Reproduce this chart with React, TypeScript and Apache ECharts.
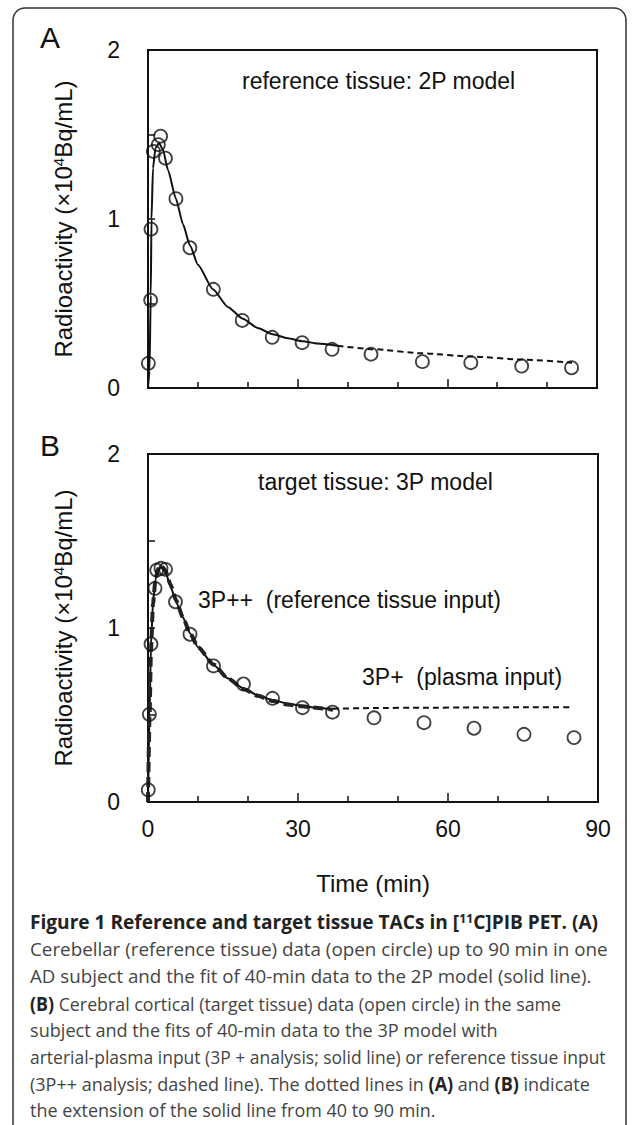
import React, { useEffect, useRef } from 'react';
import * as echarts from 'echarts';

// ---------- data ----------
// Panel A: cerebellar (reference tissue) TAC, open circles
const timeA = [0.07, 0.53, 0.6, 1.07, 2.07, 2.53, 3.5, 5.6, 8.4, 13.1, 18.9, 24.9, 30.9, 36.9, 44.7, 55, 64.7, 74.9, 84.9];
const valueA = [0.146, 0.52, 0.94, 1.4, 1.44, 1.49, 1.36, 1.12, 0.83, 0.584, 0.4, 0.3, 0.268, 0.229, 0.2, 0.156, 0.15, 0.13, 0.12];
// 2P model fit (solid) and its extension (dotted)
const fitTimeA = [0, 0.3, 0.55, 0.7, 1.0, 1.5, 2.2, 3, 4, 5.6, 7, 8.4, 10, 13, 16, 19, 22, 25, 28, 31, 34, 38];
const fitValueA = [0, 0.1, 0.55, 1.0, 1.3, 1.42, 1.45, 1.41, 1.29, 1.12, 0.97, 0.845, 0.73, 0.585, 0.48, 0.41, 0.355, 0.318, 0.295, 0.277, 0.263, 0.25];
const extTimeA = [38, 45, 55, 65, 75, 85];
const extValueA = [0.25, 0.23, 0.205, 0.186, 0.168, 0.15];

// Panel B: cerebral cortical (target tissue) TAC, open circles
const timeB = [0.05, 0.27, 0.6, 1.4, 1.74, 2.6, 3.5, 5.5, 8.4, 13.1, 19.1, 24.9, 30.9, 36.9, 45.2, 55.2, 65.2, 75.2, 85.2];
const valueB = [0.07, 0.504, 0.908, 1.228, 1.333, 1.343, 1.337, 1.151, 0.964, 0.782, 0.678, 0.596, 0.542, 0.516, 0.484, 0.456, 0.424, 0.389, 0.37];
// 3P+ fit (solid), 3P++ fit (dashed), extension of 3P+ (dotted)
const fitTimeB = [0, 0.3, 0.6, 1.0, 1.5, 2.0, 2.6, 3.5, 4.5, 5.6, 7, 8.4, 10, 13.1, 16, 19.1, 22, 24.9, 28, 30.9, 34, 37];
const fitPlusB = [0, 0.5, 0.9, 1.15, 1.28, 1.33, 1.35, 1.32, 1.24, 1.15, 1.06, 0.97, 0.89, 0.787, 0.71, 0.653, 0.612, 0.586, 0.565, 0.552, 0.54, 0.533];
const fitPlusPlusB = [0, 0.48, 0.88, 1.14, 1.28, 1.34, 1.36, 1.33, 1.25, 1.16, 1.06, 0.97, 0.89, 0.79, 0.71, 0.65, 0.61, 0.58, 0.56, 0.55, 0.54, 0.53];
const extTimeB = [37, 45, 55, 65, 75, 85];
const extValueB = [0.536, 0.54, 0.542, 0.543, 0.544, 0.544];

const xTickLabels = [0, 30, 60, 90];
const yTickLabels = [0, 1, 2];

const captionLines: Array<Array<[string, string]>> = [
  [['b', 'Figure 1 Reference and target tissue TACs in ['], ['bs', '11'], ['b', 'C]PIB PET. (A)']],
  [['r', 'Cerebellar (reference tissue) data (open circle) up to 90 min in one']],
  [['r', 'AD subject and the fit of 40-min data to the 2P model (solid line).']],
  [['b', '(B)'], ['r', ' Cerebral cortical (target tissue) data (open circle) in the same']],
  [['r', 'subject and the fits of 40-min data to the 3P model with']],
  [['r', 'arterial-plasma input (3P + analysis; solid line) or reference tissue input']],
  [['r', '(3P++ analysis; dashed line). The dotted lines in '], ['b', '(A)'], ['r', ' and '], ['b', '(B)'], ['r', ' indicate']],
  [['r', 'the extension of the solid line from 40 to 90 min.']],
];

const pairs = (xs: number[], ys: number[]) => xs.map((x, i) => [x, ys[i]]);

const INK = '#111';
const FONT = "'Liberation Sans', Arial, sans-serif";
const CAP_FONT = "'Open Sans', 'Noto Sans', sans-serif";
const CAP_SIZE = 19;
const SUP_SIZE = 12;

export default function App() {
  const ref = useRef<HTMLDivElement>(null);

  useEffect(() => {
    if (!ref.current) return;
    const chart = echarts.init(ref.current, null, { renderer: 'svg' });

    // caption layout of the reference: left edge and right edge of each line
    const capLeft = 30;
    const capRight = [598, 608, 592, 561, 498, 606, 590, 436];
    const capY = [922, 949, 976, 1003, 1029, 1056, 1083, 1109];

    let ctx: CanvasRenderingContext2D | null = null;
    try { ctx = document.createElement('canvas').getContext('2d'); } catch (e) { ctx = null; }
    const measure = (segs: Array<[string, string]>) => {
      if (!ctx) return 0;
      let w = 0;
      for (const [s, t] of segs) {
        const bold = s !== 'r';
        const size = s === 'bs' ? SUP_SIZE : CAP_SIZE;
        ctx.font = `${bold ? 'bold ' : ''}${size}px ${CAP_FONT}`;
        w += ctx.measureText(t).width;
      }
      return w;
    };

    const xAxis = (gridIndex: number, showLabels: boolean) => ({
      type: 'value', gridIndex, min: 0, max: 90, interval: 30,
      axisLine: { show: true, onZero: false, lineStyle: { color: INK, width: 2 } },
      axisTick: { show: true, inside: true, length: 9, lineStyle: { color: INK, width: 1.5 } },
      minorTick: { show: true, splitNumber: 3, length: 6, lineStyle: { color: INK, width: 1.5 } },
      splitLine: { show: false },
      minorSplitLine: { show: false },
      axisLabel: {
        show: showLabels, margin: 15, fontSize: 23, color: INK, fontFamily: FONT,
        formatter: (v: number) => (xTickLabels.includes(v) ? String(v) : ''),
      },
    });
    const yAxis = (gridIndex: number) => ({
      type: 'value', gridIndex, min: 0, max: 2, interval: 0.5,
      axisLine: { show: true, onZero: false, lineStyle: { color: INK, width: 2 } },
      axisTick: { show: true, inside: true, length: 7, lineStyle: { color: INK, width: 1.5 } },
      splitLine: { show: false },
      axisLabel: {
        margin: 28, fontSize: 23, color: INK, fontFamily: FONT,
        formatter: (v: number) => (yTickLabels.includes(v) ? String(v) : ''),
      },
    });

    const scatterStyle = {
      type: 'scatter', symbol: 'circle', symbolSize: 13, z: 5,
      itemStyle: { color: 'rgba(0,0,0,0)', borderColor: INK, borderWidth: 1.8 },
    };
    const lineBase = { type: 'line', showSymbol: false, symbol: 'none', smooth: 0.2, smoothMonotone: 'x' };

    const txt = (x: number, y: number, text: string, extra: any = {}) => ({
      type: 'text', x, y,
      style: { text, fontSize: 23, fontFamily: FONT, fill: INK, align: 'left', verticalAlign: 'middle', ...extra },
    });

    const yName = (cy: number) => ({
      type: 'text', x: 63, y: cy, rotation: Math.PI / 2,
      style: {
        text: '{n|Radioactivity (×10}{s|4}{n|Bq/mL)}',
        align: 'center', verticalAlign: 'middle', fill: INK,
        rich: {
          n: { fontSize: 24, fontFamily: FONT, fill: INK },
          s: { fontSize: 15, fontFamily: FONT, fill: INK, verticalAlign: 'top' },
        },
      },
    });

    const captionGraphics = captionLines.map((segs, i) => {
      const w = measure(segs);
      const scaleX = w > 0 ? (capRight[i] - capLeft) / w : 0.85;
      return {
        type: 'text', x: capLeft, y: capY[i], scaleX,
        style: {
          text: segs.map(([s, t]) => `{${s}|${t}}`).join(''),
          align: 'left', verticalAlign: 'middle',
          rich: {
            r: { fontSize: CAP_SIZE, fontFamily: CAP_FONT, fill: '#444' },
            b: { fontSize: CAP_SIZE, fontFamily: CAP_FONT, fontWeight: 'bold', fill: '#222' },
            bs: { fontSize: SUP_SIZE, fontFamily: CAP_FONT, fontWeight: 'bold', fill: '#222', verticalAlign: 'top' },
          },
        },
      };
    });

    const option: any = {
      animation: false,
      backgroundColor: '#fff',
      grid: [
        { left: 148, top: 50, width: 449, height: 338, show: true, borderColor: INK, borderWidth: 2 },
        { left: 148, top: 454, width: 450, height: 348, show: true, borderColor: INK, borderWidth: 2 },
      ],
      xAxis: [
        xAxis(0, false),
        {
          ...xAxis(1, true),
          name: 'Time (min)', nameLocation: 'middle', nameGap: 69,
          nameTextStyle: { fontSize: 24, fontFamily: FONT, color: INK },
        },
      ],
      yAxis: [yAxis(0), yAxis(1)],
      series: [
        { ...lineBase, name: '2P fit', xAxisIndex: 0, yAxisIndex: 0, data: pairs(fitTimeA, fitValueA), lineStyle: { color: INK, width: 2 } },
        { ...lineBase, name: '2P extension', xAxisIndex: 0, yAxisIndex: 0, data: pairs(extTimeA, extValueA), lineStyle: { color: INK, width: 2, type: [6, 4] } },
        { ...scatterStyle, name: 'cerebellum', xAxisIndex: 0, yAxisIndex: 0, data: pairs(timeA, valueA) },
        { ...lineBase, name: '3P+ fit', xAxisIndex: 1, yAxisIndex: 1, data: pairs(fitTimeB, fitPlusB), lineStyle: { color: INK, width: 2 } },
        { ...lineBase, name: '3P++ fit', xAxisIndex: 1, yAxisIndex: 1, data: pairs(fitTimeB, fitPlusPlusB), lineStyle: { color: '#222', width: 4, type: [10, 5] } },
        { ...lineBase, name: '3P+ extension', xAxisIndex: 1, yAxisIndex: 1, data: pairs(extTimeB, extValueB), lineStyle: { color: INK, width: 2, type: [6, 4] } },
        { ...scatterStyle, name: 'cortex', xAxisIndex: 1, yAxisIndex: 1, data: pairs(timeB, valueB) },
      ],
      graphic: [
        {
          type: 'rect', shape: { x: 13, y: 8, width: 613, height: 1150, r: 12 },
          style: { fill: 'none', stroke: '#333', lineWidth: 1.5 }, z: -1,
        },
        txt(50, 37, 'A', { fontSize: 30, align: 'center' }),
        txt(50, 445, 'B', { fontSize: 30, align: 'center' }),
        txt(242, 81, 'reference tissue: 2P model'),
        txt(258, 482, 'target tissue: 3P model'),
        txt(198, 600, '3P++  (reference tissue input)'),
        txt(362, 677, '3P+  (plasma input)'),
        yName(219),
        yName(628),
        ...captionGraphics,
      ],
    };

    chart.setOption(option);
    return () => chart.dispose();
  }, []);

  return (
    <div
      ref={ref}
      style={{ position: 'absolute', left: 0, top: 0, width: 633, height: 1125, background: '#fff' }}
    />
  );
}
